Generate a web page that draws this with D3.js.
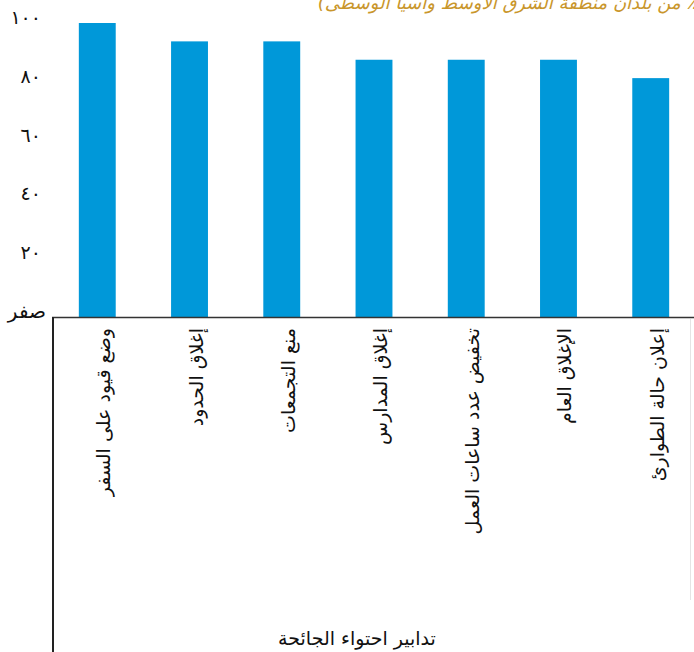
<!DOCTYPE html>
<html>
<head>
<meta charset="utf-8">
<script src="https://cdn.jsdelivr.net/npm/d3@7"></script>
<style>
  html, body { margin: 0; padding: 0; background: #fff; }
  svg { display: block; }
</style>
</head>
<body>
<svg id="chart" width="694" height="652"></svg>
<script>
// share of MCD countries (16 countries) taking each measure
const categories = [
  "وضع قيود على السفر",
  "إغلاق الحدود",
  "منع التجمعات",
  "إغلاق المدارس",
  "تخفيض عدد ساعات العمل",
  "الإغلاق العام",
  "إعلان حالة الطوارئ"
];
const values = [100, 93.75, 93.75, 87.5, 87.5, 87.5, 81.25];
const yTicks = [0, 20, 40, 60, 80, 100];
const yTickLabels = ["صفر", "٢٠", "٤٠", "٦٠", "٨٠", "١٠٠"];
const titleText = "(٪ من بلدان منطقة الشرق الأوسط وآسيا الوسطى)";
const xTitle = "تدابير  احتواء الجائحة";

const W = 694, H = 652;
const font = "'DejaVu Sans', sans-serif";

const svg = d3.select("#chart");

const x = d3.scaleBand()
  .domain(categories)
  .range([53, 695])
  .paddingInner(0.6)
  .paddingOuter(0.28);

const y = d3.scaleLinear()
  .domain([0, 100])
  .range([317, 23]);

// title, clipped by the top of the page as in the source
svg.append("text")
  .attr("x", 703)
  .attr("y", 9)
  .attr("direction", "rtl")
  .attr("text-anchor", "start")
  .attr("font-family", font)
  .attr("font-style", "italic")
  .attr("font-size", 18)
  .attr("fill", "#c9962b")
  .text(titleText);

// bars
svg.append("g")
  .selectAll("rect")
  .data(values)
  .join("rect")
  .attr("x", (d, i) => x(categories[i]))
  .attr("y", d => y(d))
  .attr("width", x.bandwidth())
  .attr("height", d => y(0) - y(d))
  .attr("fill", "#0098d9");

// y tick labels (no axis line)
svg.append("g")
  .selectAll("text")
  .data(yTicks)
  .join("text")
  .attr("x", (d, i) => i === 0 ? 46 : 41)
  .attr("y", d => y(d) - 6)
  .attr("text-anchor", "end")
  .attr("dominant-baseline", "central")
  .attr("font-family", font)
  .attr("font-size", (d, i) => i === 0 ? 20 : 19)
  .attr("fill", "#111")
  .text((d, i) => yTickLabels[i]);

// baseline and left frame line
svg.append("line")
  .attr("x1", 52).attr("x2", W)
  .attr("y1", y(0) + 0.5).attr("y2", y(0) + 0.5)
  .attr("stroke", "#333").attr("stroke-width", 1.5);

svg.append("line")
  .attr("x1", 53).attr("x2", 53)
  .attr("y1", y(0)).attr("y2", H)
  .attr("stroke", "#222").attr("stroke-width", 2);

svg.append("line")
  .attr("x1", 690.5).attr("x2", 690.5)
  .attr("y1", y(0) + 2).attr("y2", 600)
  .attr("stroke", "#e4e4e4").attr("stroke-width", 1);

// rotated category labels
svg.append("g")
  .selectAll("text")
  .data(categories)
  .join("text")
  .attr("transform", d => `translate(${x(d) + x.bandwidth() / 2 + 6},328) rotate(-90)`)
  .attr("text-anchor", "end")
  .attr("dominant-baseline", "central")
  .attr("font-family", font)
  .attr("font-size", 19)
  .attr("fill", "#111")
  .text(d => d);

// x axis title
svg.append("text")
  .attr("x", 357)
  .attr("y", 645)
  .attr("text-anchor", "middle")
  .attr("font-family", font)
  .attr("font-size", 19)
  .attr("fill", "#111")
  .text(xTitle);
</script>
</body>
</html>
